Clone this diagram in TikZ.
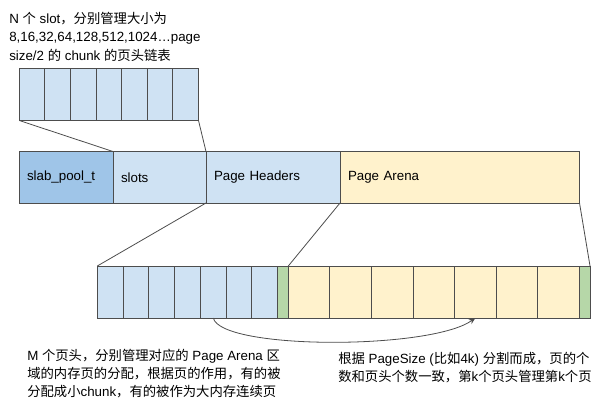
\documentclass[tikz,border=0pt]{standalone}
\usepackage{fontspec}
\setmainfont{Liberation Sans}
\newfontfamily\cjk{Noto Sans CJK SC}
\usetikzlibrary{arrows.meta}
\definecolor{darkblue}{HTML}{9FC5E8}
\definecolor{lightblue}{HTML}{CFE2F3}
\definecolor{lightyellow}{HTML}{FFF2CC}
\definecolor{lightgreen}{HTML}{B6D7A8}
\definecolor{strokegray}{HTML}{4D4D4D}
\newcommand{\zh}[1]{{\cjk #1}}
\begin{document}
\begin{tikzpicture}[x=0.75pt,y=-0.75pt,
  cell/.style={draw=strokegray,line width=0.75pt,anchor=north west,inner sep=0pt,outer sep=0pt,minimum height=52*0.75pt},
  barbox/.style={draw=strokegray,line width=0.75pt,anchor=north west,outer sep=0pt,inner ysep=0pt,inner xsep=6pt,minimum height=51.5*0.75pt,align=left,font=\fontsize{10pt}{12pt}\selectfont},
  conn/.style={draw=strokegray,line width=0.6pt},
  txt/.style={anchor=base west,inner sep=0pt,font=\fontsize{10pt}{12pt}\selectfont}
]
\useasboundingbox (0,0) rectangle (605,400);
% top text
\node[txt] (t1) at (9,23) {N \zh{个} slot\zh{，分别管理大小为}};
\node[txt] (t2) at (9,41.5) {8,16,32,64,128,512,1024…page};
\node[txt] (t3) at (9,60) {size/2 \zh{的} chunk \zh{的页头链表}};
% top slot array
\foreach \i in {1,...,7}{
  \node[cell,fill=lightblue,minimum width=25.6*0.75pt] (s\i) at ({19.3+(\i-1)*25.6},68.5) {};
}
% main bar
\node[barbox,fill=darkblue,text width=(94-16)*0.75pt] (pool) at (19,151.5) {slab\_pool\_t};
\node[barbox,fill=lightblue,text width=(93-16)*0.75pt] (slots) at (113,151.5) {slots};
\node[barbox,fill=lightblue,text width=(134-16)*0.75pt] (headers) at (206,151.5) {Page Headers};
\node[barbox,fill=lightyellow,text width=(239.5-16)*0.75pt] (arena) at (340,151.5) {Page Arena};
% bottom bar
\foreach \i in {1,...,7}{
  \node[cell,fill=lightblue,minimum width=25.77*0.75pt] (b\i) at ({97.3+(\i-1)*25.77},266) {};
}
\node[cell,fill=lightgreen,minimum width=10.6*0.75pt] (g1) at (277.7,266) {};
\foreach \i in {1,...,7}{
  \node[cell,fill=lightyellow,minimum width=41.57*0.75pt] (y\i) at ({288.3+(\i-1)*41.57},266) {};
}
\node[cell,fill=lightgreen,minimum width=10.7*0.75pt] (g2) at (579.3,266) {};
% connectors
\draw[conn] (s1.south west) -- (slots.north west);
\draw[conn] (s7.south east) -- (slots.north east);
\draw[conn] (headers.south west) -- (b1.north west);
\draw[conn] (headers.south east) -- (g1.north east);
\draw[conn] (arena.south east) -- (g2.north east);
\draw[conn,-{Stealth[length=5pt,width=4pt]}] (b5.south) .. controls +(8,32) and +(-45,32) .. (y5.south);
% bottom texts
\node[txt] (l1) at (27,360) {M \zh{个页头，分别管理对应的} Page Arena \zh{区}};
\node[txt] (l2) at (27,378) {\zh{域的内存页的分配，根据页的作用，有的被}};
\node[txt] (l3) at (27,396) {\zh{分配成小}chunk\zh{，有的被作为大内存连续页}};
\node[txt] (r1) at (338,363) {\zh{根据} PageSize (\zh{比如}4k) \zh{分割而成，页的个}};
\node[txt] (r2) at (338,381) {\zh{数和页头个数一致，第}k\zh{个页头管理第}k\zh{个页}};
\end{tikzpicture}
\end{document}
